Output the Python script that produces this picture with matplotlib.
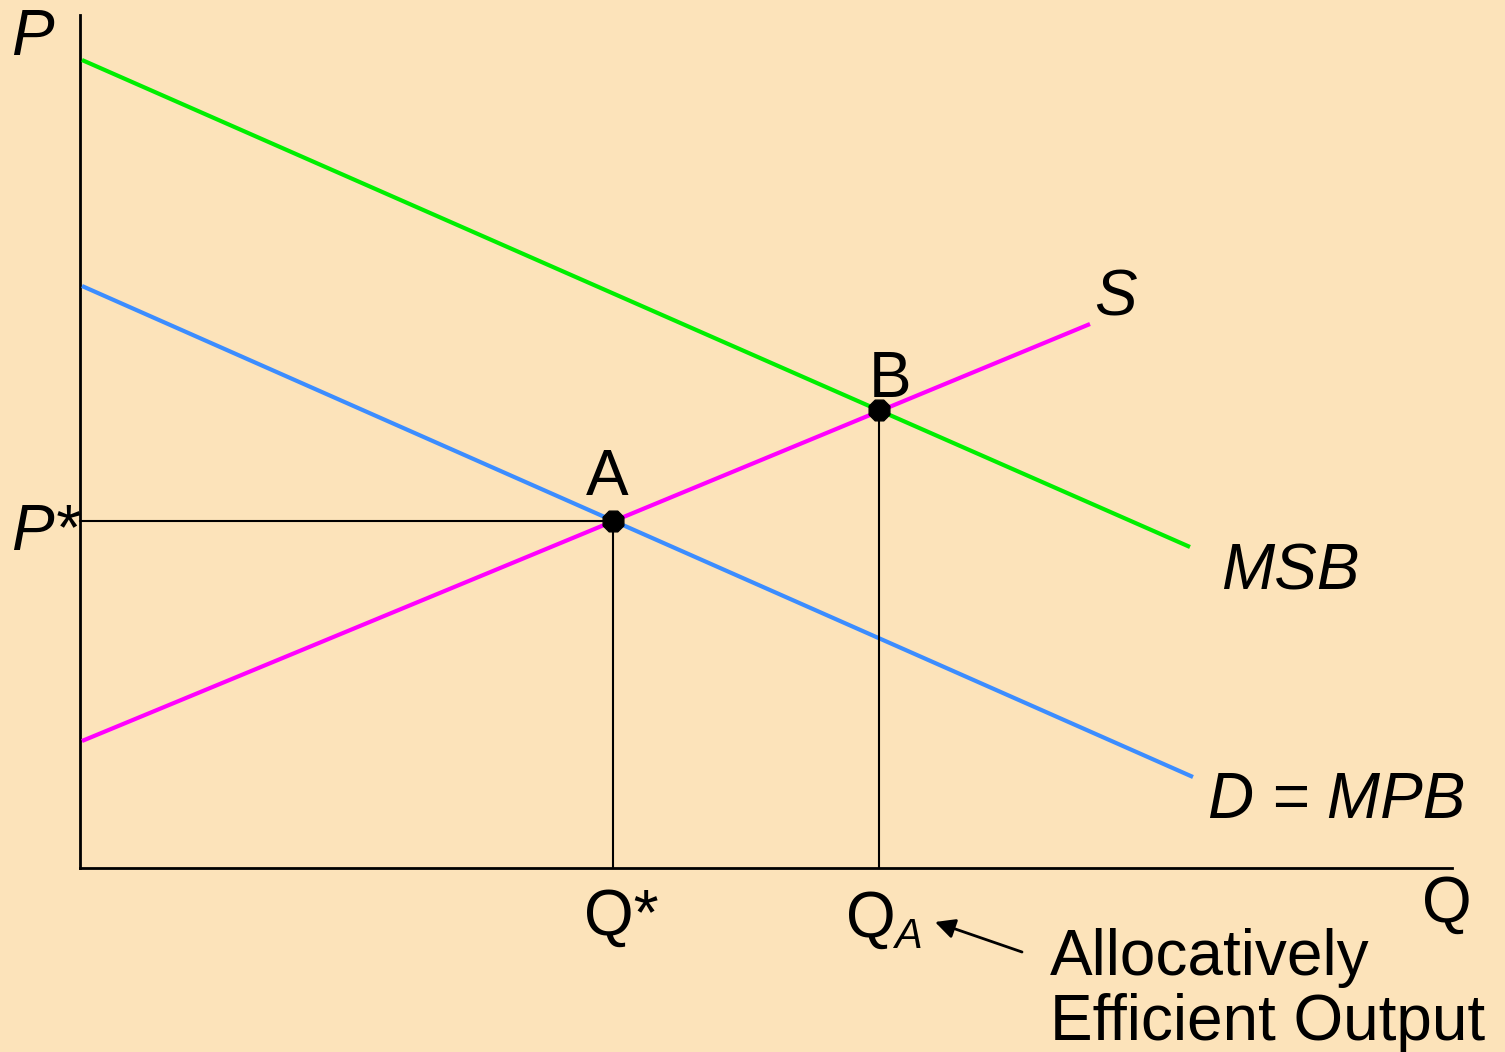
import numpy as np
import matplotlib.pyplot as plt

# Curves: quantity / price end points (origin at the axes corner)
msb_q = [2, 1110]
msb_p = [808, 321]
mpb_q = [2, 1113]
mpb_p = [582, 91]
s_q = [2, 1010]
s_p = [127, 544]

# Equilibrium points
point_names = ['A', 'B']
point_q = [533, 799]
point_p = [347, 458]

bg = '#FCE3BA'
plt.rcParams['font.family'] = ['Liberation Sans', 'DejaVu Sans']

fig = plt.figure(figsize=(15.05, 10.52), dpi=100, facecolor=bg)
ax = fig.add_axes([0, 0, 1, 1])
ax.set_facecolor(bg)
ax.set_xlim(-80, 1425)
ax.set_ylim(-184, 868)
ax.axis('off')

# axes
ax.plot([0, 0], [0, 853], color='black', lw=2)
ax.plot([0, 1372], [0, 0], color='black', lw=2)

# curves
ax.plot(msb_q, msb_p, color='#00EE00', lw=3, solid_capstyle='butt')
ax.plot(mpb_q, mpb_p, color='#3C8DFF', lw=3, solid_capstyle='butt')
ax.plot(s_q, s_p, color='#FF00FF', lw=3, solid_capstyle='butt')

# guide lines
qa, qb = point_q
pa, pb = point_p
ax.plot([0, qa], [pa, pa], color='black', lw=1.5)
ax.plot([qa, qa], [0, pa], color='black', lw=1.5)
ax.plot([qb, qb], [0, pb], color='black', lw=1.5)

ax.scatter(point_q, point_p, s=260, marker='8', color='black', zorder=5)

fs = 46
kw = dict(fontsize=fs, ha='center', va='baseline')
ax.text(527, 373, point_names[0], **kw)
ax.text(810, 471, point_names[1], **kw)

ax.text(-48, 813, 'P', style='italic', **kw)
ax.text(-35, 318, 'P*', style='italic', **kw)
ax.text(1035, 553, 'S', style='italic', **kw)
ax.text(1210, 278, 'MSB', style='italic', **kw)
ax.text(1257, 50, 'D = MPB', style='italic', **kw)
ax.text(1367, -54, 'Q', **kw)
ax.text(541, -67, 'Q*', **kw)
ax.text(791, -69, 'Q', **kw)
ax.text(828, -80, 'A', fontsize=30, style='italic', ha='center', va='baseline')

ax.annotate('', xy=(855, -54), xytext=(942, -84),
            arrowprops=dict(arrowstyle='-|>', color='black', lw=2,
                            mutation_scale=30, shrinkA=0, shrinkB=0))
ax.text(970, -107, 'Allocatively', fontsize=fs, ha='left', va='baseline')
ax.text(970, -172, 'Efficient Output', fontsize=fs, ha='left', va='baseline')

fig.savefig('out.png', dpi=100, facecolor=bg)
